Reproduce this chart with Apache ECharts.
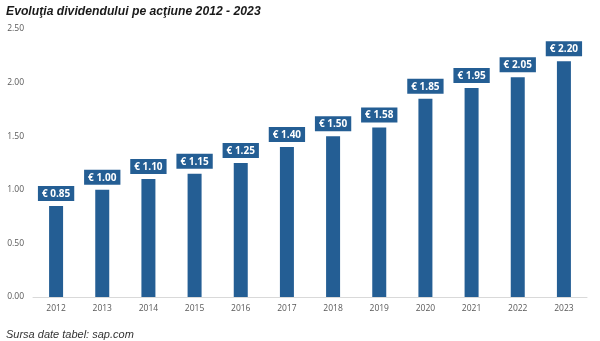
<!DOCTYPE html>
<html><head><meta charset="utf-8">
<script src="https://cdn.jsdelivr.net/npm/echarts@6/dist/echarts.min.js"></script>
<style>html,body{margin:0;padding:0;background:#fff}#c{width:600px;height:341px}</style>
</head><body><div id="c"></div>
<script>
var years = ['2012','2013','2014','2015','2016','2017','2018','2019','2020','2021','2022','2023'];
var dividends = [0.85,1.00,1.10,1.15,1.25,1.40,1.50,1.58,1.85,1.95,2.05,2.20];
var yTicks = [0, 0.5, 1.0, 1.5, 2.0, 2.5];
var titleText = 'Evoluţia dividendului pe acţiune 2012 - 2023';
var sourceText = 'Sursa date tabel: sap.com';

var chart = echarts.init(document.getElementById('c'));
chart.setOption({
  animation: false,
  title: [
    {text: titleText, left: 1, top: 1, textStyle: {fontFamily: 'Liberation Sans', fontStyle: 'italic', fontWeight: 'bold', fontSize: 12.2, color: '#1a1a1a'}},
    {text: sourceText, left: 1, top: 324, textStyle: {fontFamily: 'Liberation Sans', fontStyle: 'italic', fontWeight: 'normal', fontSize: 11, color: '#333'}}
  ],
  grid: {left: 33, right: 13, top: 29, bottom: 44},
  xAxis: {
    type: 'category', data: years,
    axisLine: {lineStyle: {color: '#d9d9d9'}},
    axisTick: {show: false},
    axisLabel: {color: '#595959', fontSize: 8.5, fontFamily: 'Open Sans', margin: 7}
  },
  yAxis: {
    type: 'value', min: yTicks[0], max: yTicks[yTicks.length-1], interval: 0.5,
    splitLine: {show: false},
    axisLabel: {color: '#595959', fontSize: 8.5, fontFamily: 'Open Sans', margin: 9, formatter: function(v){return v.toFixed(2);}}
  },
  series: [{
    type: 'bar', data: dividends, barWidth: 14,
    itemStyle: {color: '#245e94'},
    label: {
      show: true, position: 'top', distance: 5,
      formatter: function(p){return '€ ' + p.value.toFixed(2);},
      color: '#fff', fontWeight: 'bold', fontSize: 10, fontFamily: 'Open Sans',
      backgroundColor: '#245e94', padding: [3, 4, 2, 4]
    }
  }]
});
</script></body></html>
